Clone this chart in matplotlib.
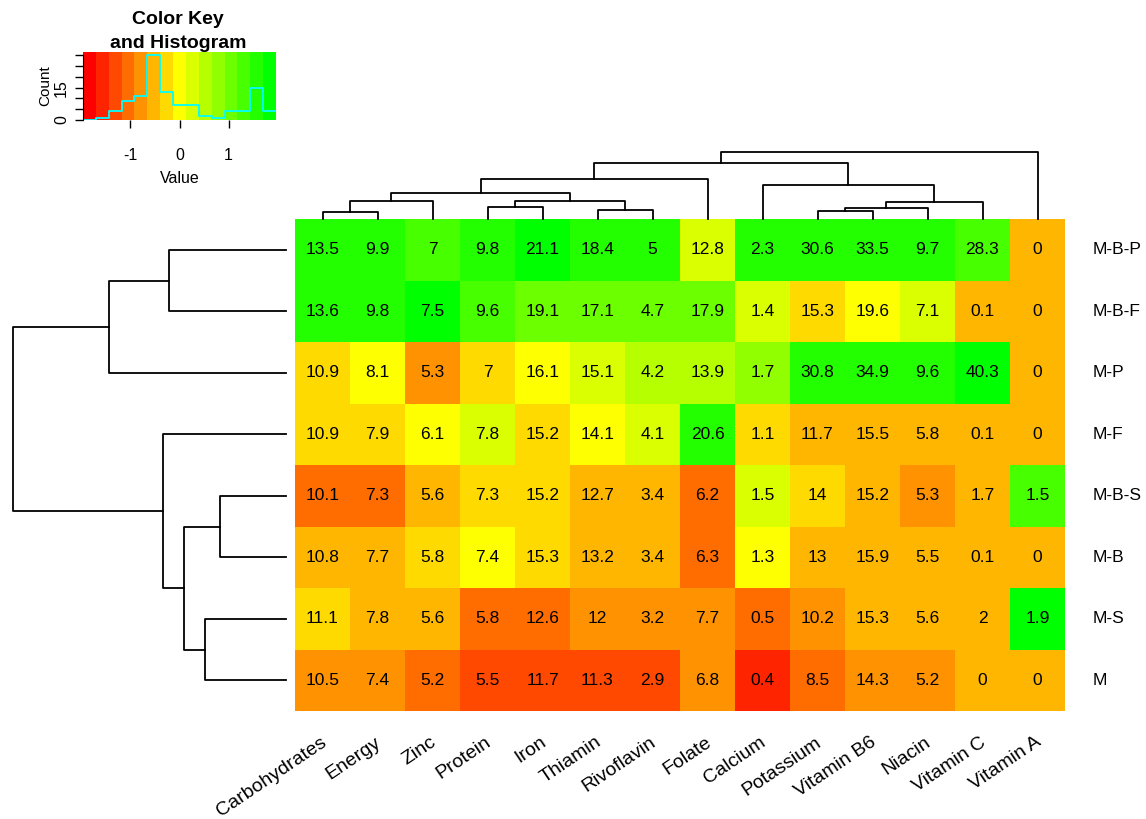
import numpy as np
import matplotlib
matplotlib.use("Agg")
import matplotlib.pyplot as plt
from matplotlib.colors import ListedColormap, BoundaryNorm, LinearSegmentedColormap

plt.rcParams["font.family"] = ["Liberation Sans", "DejaVu Sans"]

# data (rows / columns in the order the dendrograms put them)
rows = ["M-B-P", "M-B-F", "M-P", "M-F", "M-B-S", "M-B", "M-S", "M"]
cols = ["Carbohydrates", "Energy", "Zinc", "Protein", "Iron", "Thiamin",
        "Rivoflavin", "Folate", "Calcium", "Potassium", "Vitamin B6",
        "Niacin", "Vitamin C", "Vitamin A"]
# cell notes show one decimal; a few values carry an estimated extra digit
values = np.array([
    [13.5, 9.9, 7.0, 9.8, 21.1, 18.4, 5.0, 12.8, 2.3, 30.6, 33.5, 9.7, 28.3, 0],
    [13.6, 9.8, 7.5, 9.6, 19.1, 17.1, 4.7, 17.9, 1.4, 15.3, 19.6, 7.1, 0.1, 0],
    [10.9, 8.14, 5.3, 7.0, 16.1, 15.1, 4.2, 13.9, 1.7, 30.8, 34.9, 9.6, 40.3, 0],
    [10.9, 7.9, 6.1, 7.8, 15.2, 14.1, 4.1, 20.6, 1.1, 11.7, 15.5, 5.8, 0.1, 0],
    [10.1, 7.26, 5.6, 7.3, 15.2, 12.7, 3.4, 6.2, 1.5, 14.0, 15.2, 5.3, 1.7, 1.5],
    [10.8, 7.7, 5.8, 7.4, 15.3, 13.2, 3.4, 6.3, 1.3, 13.0, 15.9, 5.5, 0.1, 0],
    [11.1, 7.8, 5.6, 5.8, 12.6, 12.0, 3.2, 7.7, 0.549, 10.2, 15.3, 5.6, 2.0, 1.9],
    [10.5, 7.4, 5.2, 5.5, 11.7, 11.3, 2.9, 6.8, 0.36, 8.5, 14.3, 5.2, 0.0, 0],
])

# dendrogram merges: (child a, child b, height)
col_merges = [(0, 1, 0.11), (14, 2, 0.27), (3, 4, 0.175), (5, 6, 0.135),
              (16, 17, 0.27), (15, 18, 0.385), (19, 7, 0.60), (9, 10, 0.115),
              (21, 11, 0.16), (22, 12, 0.25), (8, 23, 0.50), (20, 24, 0.835),
              (25, 13, 1.0)]
row_merges = [(0, 1, 0.429), (8, 2, 0.647), (4, 5, 0.24), (6, 7, 0.295),
              (10, 11, 0.375), (3, 12, 0.452), (9, 13, 1.0)]

# column-scaled values
z = (values - values.mean(axis=0)) / values.std(axis=0, ddof=1)
zmax = np.abs(z).max()
ncol = 15
breaks = np.linspace(-zmax, zmax, ncol + 1)
ramp = LinearSegmentedColormap.from_list("ryg", ["red", "yellow", "#00ff00"])
cmap = ListedColormap([ramp(i / (ncol - 1)) for i in range(ncol)])
norm = BoundaryNorm(breaks, ncol)

W, H = 1146, 819
fig = plt.figure(figsize=(W / 100, H / 100), dpi=100)


def box(x0, y0, x1, y1):
    return [x0 / W, 1 - y1 / H, (x1 - x0) / W, (y1 - y0) / H]


# heatmap
ax = fig.add_axes(box(295, 219, 1065, 711))
nr, nc = values.shape
ax.pcolormesh(np.arange(nc + 1) - 0.5, np.arange(nr + 1) - 0.5, z,
              cmap=cmap, norm=norm)
ax.set_xlim(-0.5, nc - 0.5)
ax.set_ylim(nr - 0.5, -0.5)
ax.axis("off")
for i in range(nr):
    for j in range(nc):
        ax.text(j, i, f"{round(values[i, j], 1):g}", ha="center", va="center",
                fontsize=12.5)
for i, r in enumerate(rows):
    ax.text(nc - 0.5 + 0.5, i, r, ha="left", va="center", fontsize=12.5)
for j, c in enumerate(cols):
    ax.text(j - 0.05, nr - 0.5 + 0.37, c, ha="right", va="top", rotation=34,
            rotation_mode="anchor", fontsize=14)


def draw_dendro(ax, merges, n, vertical):
    pos = {i: float(i) for i in range(n)}
    hgt = {i: 0.0 for i in range(n)}
    for k, (a, b, h) in enumerate(merges):
        xa, xb = pos[a], pos[b]
        if vertical:
            ax.plot([xa, xa, xb, xb], [hgt[a], h, h, hgt[b]], color="black", lw=1.3,
                    clip_on=False)
        else:
            ax.plot([hgt[a], h, h, hgt[b]], [xa, xa, xb, xb], color="black", lw=1.3,
                    clip_on=False)
        pos[n + k] = (xa + xb) / 2
        hgt[n + k] = h


# column dendrogram
axc = fig.add_axes(box(295, 152, 1065, 219))
draw_dendro(axc, col_merges, nc, True)
axc.set_xlim(-0.5, nc - 0.5)
axc.set_ylim(0, 1)
axc.axis("off")

# row dendrogram
axr = fig.add_axes(box(13, 219, 286, 711))
draw_dendro(axr, row_merges, nr, False)
axr.set_ylim(nr - 0.5, -0.5)
axr.set_xlim(1, 0)
axr.axis("off")

# color key with histogram
axk = fig.add_axes(box(83, 52, 276, 120))
axk.pcolormesh(breaks, [0, 1], np.array([(breaks[:-1] + breaks[1:]) / 2]),
               cmap=cmap, norm=norm)
counts, _ = np.histogram(z.ravel(), bins=breaks)
hy = np.append(counts, counts[-1])
axk.step(breaks, hy / hy.max() * 0.95, where="post", color="cyan", lw=1.3)
axk.set_xlim(breaks[0], breaks[-1])
axk.set_ylim(0, 1)
yt = np.arange(0, hy.max() + 1, 5)
axk.set_yticks(yt / hy.max() * 0.95)
axk.set_yticklabels(["0" if t == 0 else ("15" if t == 15 else "") for t in yt],
                    rotation=90, va="center", fontsize=11.5)
axk.set_xticks([-1, 0, 1])
axk.set_xticklabels(["-1", "0", "1"], fontsize=11.5)
axk.tick_params(length=6, width=1)
axk.xaxis.set_tick_params(pad=14)
axk.yaxis.set_tick_params(pad=4)
for s in ["top", "right", "bottom"]:
    axk.spines[s].set_visible(False)
axk.spines["left"].set_bounds(0, yt[-1] / hy.max() * 0.95)
axk.set_xlabel("Value", fontsize=11.5, labelpad=6)
axk.set_ylabel("Count", fontsize=11, labelpad=1)
fig.text(178 / W, 1 - 20 / H, "Color Key", ha="center", va="center",
         fontsize=14, fontweight="bold")
fig.text(178 / W, 1 - 43 / H, "and Histogram", ha="center", va="center",
         fontsize=14, fontweight="bold")

fig.savefig("out.png", dpi=100)
